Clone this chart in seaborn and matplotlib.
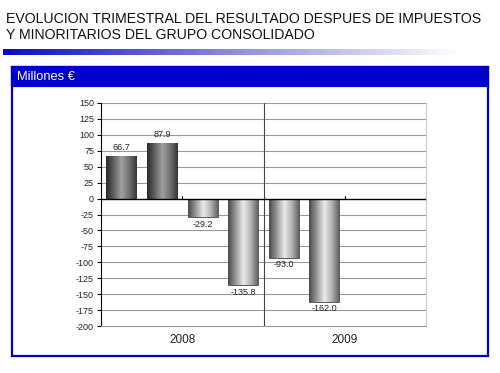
import numpy as np
import pandas as pd
import matplotlib
matplotlib.use('Agg')
import matplotlib.pyplot as plt
import seaborn as sns
from matplotlib.patches import Rectangle
from matplotlib.colors import LinearSegmentedColormap

# Data
quarters = ['1T08', '2T08', '3T08', '4T08', '1T09', '2T09', '3T09', '4T09']
values = [66.7, 87.9, -29.2, -135.8, -93.0, -162.0, np.nan, np.nan]
years = ['2008', '2009']
title = 'EVOLUCION TRIMESTRAL DEL RESULTADO DESPUES DE IMPUESTOS\nY MINORITARIOS DEL GRUPO CONSOLIDADO'

df = pd.DataFrame({'quarter': quarters, 'value': values})

sns.set_style('white')
plt.rcParams['font.family'] = ['Liberation Sans', 'DejaVu Sans']

fig = plt.figure(figsize=(5, 3.73), dpi=100)
W, H = 500, 373

def fx(px):
    return px / W

def fy(py):
    return 1 - py / H

# title
fig.text(fx(6), fy(12), title, ha='left', va='top', fontsize=10.2,
         color='#111111', linespacing=1.2)

# gradient line under title
gax = fig.add_axes([fx(3), fy(55), fx(457), 6 / H])
grad = np.linspace(0, 1, 256).reshape(1, -1)
bcmap = LinearSegmentedColormap.from_list('b', ['#0a0ac8', '#8c8cdc', '#ffffff'])
gax.imshow(grad, aspect='auto', cmap=bcmap)
gax.axis('off')

# blue box and header
fig.patches.append(Rectangle((fx(12), fy(356)), fx(476), 289 / H, transform=fig.transFigure,
                             facecolor='none', edgecolor='#0000cc', linewidth=1.6, zorder=0))
fig.patches.append(Rectangle((fx(12), fy(86)), fx(476), 19 / H, transform=fig.transFigure,
                             facecolor='#0000cc', edgecolor='#0000cc', linewidth=1.6, zorder=0))
fig.text(fx(17), fy(77), 'Millones €', ha='left', va='center', fontsize=9.3, color='white')

# chart
ax = fig.add_axes([fx(101), fy(326), fx(325), 223 / H])
ax.patch.set_alpha(0)
sns.barplot(data=df, x='quarter', y='value', order=quarters, width=0.74,
            color='#888888', ax=ax, zorder=3)
ax.set_xlim(-0.5, 7.5)
ax.set_ylim(-200, 150)
ax.set_yticks(np.arange(-200, 151, 25))
ax.set_yticklabels([str(v) for v in range(-200, 151, 25)], fontsize=6.5, color='#222222')
ax.tick_params(axis='y', length=3, width=0.8, color='black', pad=2, left=True)
ax.set_xticks([])
ax.set_xlabel('')
ax.set_ylabel('')
for y in range(-175, 151, 25):
    if y != 0:
        ax.axhline(y, color='#999999', linewidth=0.8, zorder=1)
ax.axhline(0, color='black', linewidth=1.0, zorder=4)
ax.axvline(3.5, color='#444444', linewidth=0.8, zorder=2)
ax.spines['top'].set_visible(False)
ax.spines['left'].set_color('black')
ax.spines['left'].set_linewidth(0.8)
ax.spines['bottom'].set_color('#999999')
ax.spines['bottom'].set_linewidth(0.8)
ax.spines['right'].set_visible(True)
ax.spines['right'].set_color('#bbbbbb')
ax.spines['right'].set_linewidth(0.6)

# cylinder shading on bars
pos_cmap = LinearSegmentedColormap.from_list('p', ['#2a2a2a', '#626262', '#a0a0a0', '#727272', '#363636'])
neg_cmap = LinearSegmentedColormap.from_list('n', ['#4a4a4a', '#9a9a9a', '#ececec', '#b0b0b0', '#5a5a5a'])
shade = np.linspace(0, 1, 64).reshape(1, -1)
bars = [p for p in ax.patches]
for patch, v in zip(bars, [v for v in values if not np.isnan(v)]):
    x0, w = patch.get_x(), patch.get_width()
    y0, h = patch.get_y(), patch.get_height()
    cm = pos_cmap if v > 0 else neg_cmap
    im = ax.imshow(shade, aspect='auto', cmap=cm, extent=[x0, x0 + w, min(y0, y0 + h), max(y0, y0 + h)],
                   zorder=3.5)
    im.set_clip_path(patch)
    patch.set_edgecolor('#333333')
    patch.set_linewidth(0.5)
    xc = x0 + w / 2
    if v > 0:
        ax.text(xc, v + 6, f'{v:.1f}', ha='center', va='bottom', fontsize=6.5, color='#222222', zorder=5)
    else:
        ax.text(xc, v - 4, f'{v:.1f}', ha='center', va='top', fontsize=6.5, color='#222222', zorder=5)
ax.set_xlim(-0.5, 7.5)
ax.set_ylim(-200, 150)

# small ticks at year centers on the zero line
for xc in [1.5, 5.5]:
    ax.plot([xc, xc], [0, 4], color='black', linewidth=0.8, zorder=5)

# year labels
for i, yr in enumerate(years):
    ax.text(1.5 + 4 * i, -212, yr, ha='center', va='top', fontsize=8.5, color='#222222')

fig.savefig('out.png', dpi=100)
